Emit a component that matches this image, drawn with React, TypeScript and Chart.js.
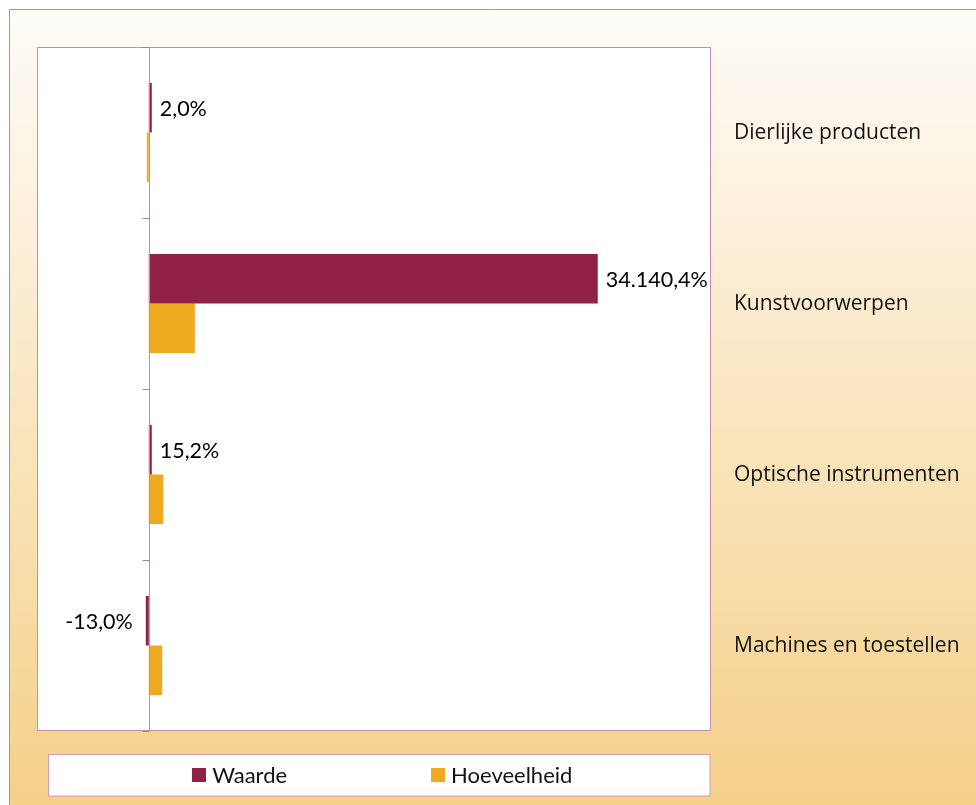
import React, { useEffect, useRef } from "react";
import { Chart, registerables } from "chart.js";

Chart.register(...registerables);

const categories = [
  "Dierlijke producten",
  "Kunstvoorwerpen",
  "Optische instrumenten",
  "Machines en toestellen",
];
const seriesNames = ["Waarde", "Hoeveelheid"];
const waarde = [2.0, 34140.4, 15.2, -13.0];
const hoeveelheid = [-150, 3500, 1100, 1020];
const axisMin = -8500;
const axisMax = 42750;

const COLORS = ["#8f2246", "#f0aa22"];
const FONT = "Lato, 'Open Sans', sans-serif";
const CAT_FONT = "'Open Sans', Lato, sans-serif";

function formatNl(v: number): string {
  const neg = v < 0;
  const abs = Math.abs(v);
  const fixed = abs.toFixed(1);
  const [intPart, dec] = fixed.split(".");
  const withDots = intPart.replace(/\B(?=(\d{3})+(?!\d))/g, ".");
  return (neg ? "-" : "") + withDots + "," + dec + "%";
}

const decorPlugin = {
  id: "decor",
  beforeDraw(chart: any) {
    const { ctx, width, height, chartArea } = chart;
    ctx.save();
    ctx.fillStyle = "#ffffff";
    ctx.fillRect(0, 0, width, height);
    const g = ctx.createLinearGradient(0, 9, 0, height);
    g.addColorStop(0, "#fefcf8");
    g.addColorStop(1, "#f5d089");
    ctx.fillStyle = g;
    ctx.fillRect(9, 9, width - 9, height - 9);
    ctx.strokeStyle = "#9c9c9c";
    ctx.lineWidth = 1;
    ctx.beginPath();
    ctx.moveTo(9.5, height);
    ctx.lineTo(9.5, 9.5);
    ctx.lineTo(width, 9.5);
    ctx.stroke();
    // plot area
    ctx.fillStyle = "#ffffff";
    ctx.fillRect(chartArea.left, chartArea.top, chartArea.right - chartArea.left, chartArea.bottom - chartArea.top);
    ctx.restore();
  },
  afterDatasetsDraw(chart: any) {
    const { ctx, chartArea } = chart;
    const xs = chart.scales.x;
    const ys = chart.scales.y;
    ctx.save();
    // plot border
    ctx.strokeStyle = "#c98ea7";
    ctx.lineWidth = 1;
    ctx.strokeRect(chartArea.left + 0.5, chartArea.top + 0.5, chartArea.right - chartArea.left - 1, chartArea.bottom - chartArea.top - 1);
    // zero axis line
    const x0 = Math.round(xs.getPixelForValue(0)) + 0.5;
    ctx.strokeStyle = "#c68aa2";
    ctx.beginPath();
    ctx.moveTo(x0, chartArea.top);
    ctx.lineTo(x0, chartArea.bottom);
    ctx.stroke();
    // tick marks at category boundaries
    const n = categories.length;
    const band = (chartArea.bottom - chartArea.top) / n;
    ctx.strokeStyle = "#b77692";
    for (let i = 0; i <= n; i++) {
      const y = Math.round(chartArea.top + i * band) + 0.5;
      ctx.beginPath();
      ctx.moveTo(x0 - 7, y);
      ctx.lineTo(x0, y);
      ctx.stroke();
    }
    // category labels on the right
    ctx.fillStyle = "#111111";
    ctx.font = `21px ${CAT_FONT}`;
    ctx.textAlign = "left";
    ctx.textBaseline = "middle";
    categories.forEach((c, i) => {
      ctx.fillText(c, chartArea.right + 23, ys.getPixelForValue(i) + 1);
    });
    // data labels for Waarde
    const meta = chart.getDatasetMeta(0);
    ctx.font = `21.5px ${FONT}`;
    ctx.fillStyle = "#000000";
    meta.data.forEach((bar: any, i: number) => {
      const v = waarde[i];
      const label = formatNl(v);
      if (v >= 0) {
        ctx.textAlign = "left";
        ctx.fillText(label, Math.max(bar.x, x0) + 8, bar.y + 1);
      } else {
        ctx.textAlign = "right";
        ctx.fillText(label, Math.min(bar.x, x0) - 13, bar.y + 1);
      }
    });
    ctx.restore();
  },
  afterDraw(chart: any) {
    const { ctx } = chart;
    ctx.save();
    // legend box
    const bx = 48.5, by = 754.5, bw = 661.5, bh = 41.5;
    ctx.fillStyle = "#ffffff";
    ctx.fillRect(bx, by, bw, bh);
    ctx.strokeStyle = "#d79bb0";
    ctx.lineWidth = 1;
    ctx.strokeRect(bx, by, bw, bh);
    ctx.font = `22px ${FONT}`;
    ctx.textBaseline = "middle";
    ctx.textAlign = "left";
    const sq = 14, gapText = 6, gapItems = 144;
    const widths = seriesNames.map((s) => sq + gapText + ctx.measureText(s).width);
    const total = widths.reduce((a, b) => a + b, 0) + gapItems * (seriesNames.length - 1);
    let x = bx + bw / 2 - total / 2 + 3;
    const cy = by + bh / 2;
    seriesNames.forEach((s, i) => {
      ctx.fillStyle = COLORS[i];
      ctx.fillRect(Math.round(x), Math.round(cy - sq / 2), sq, sq);
      ctx.fillStyle = "#111111";
      ctx.fillText(s, x + sq + gapText, cy + 1);
      x += widths[i] + gapItems;
    });
    ctx.restore();
  },
};

export default function App() {
  const ref = useRef<HTMLCanvasElement | null>(null);
  useEffect(() => {
    if (!ref.current) return;
    const chart = new Chart(ref.current, {
      type: "bar",
      data: {
        labels: categories,
        datasets: [
          {
            label: seriesNames[0],
            data: waarde,
            backgroundColor: COLORS[0],
            borderWidth: 0,
            minBarLength: 3,
            categoryPercentage: 0.58,
            barPercentage: 1.0,
          },
          {
            label: seriesNames[1],
            data: hoeveelheid,
            backgroundColor: COLORS[1],
            borderWidth: 0,
            categoryPercentage: 0.58,
            barPercentage: 1.0,
          },
        ],
      },
      options: {
        indexAxis: "y",
        responsive: false,
        maintainAspectRatio: false,
        animation: false,
        devicePixelRatio: 1,
        layout: { padding: { left: 37, top: 47, right: 265, bottom: 74 } },
        plugins: {
          legend: { display: false },
          tooltip: { enabled: false },
          title: { display: false },
        },
        scales: {
          x: { type: "linear", min: axisMin, max: axisMax, display: false },
          y: { type: "category", offset: true, display: false },
        },
      },
      plugins: [decorPlugin],
    } as any);
    return () => chart.destroy();
  }, []);
  return (
    <div style={{ position: "fixed", left: 0, top: 0, width: 976, height: 805 }}>
      <canvas ref={ref} width={976} height={805} style={{ width: 976, height: 805, display: "block" }} />
    </div>
  );
}
